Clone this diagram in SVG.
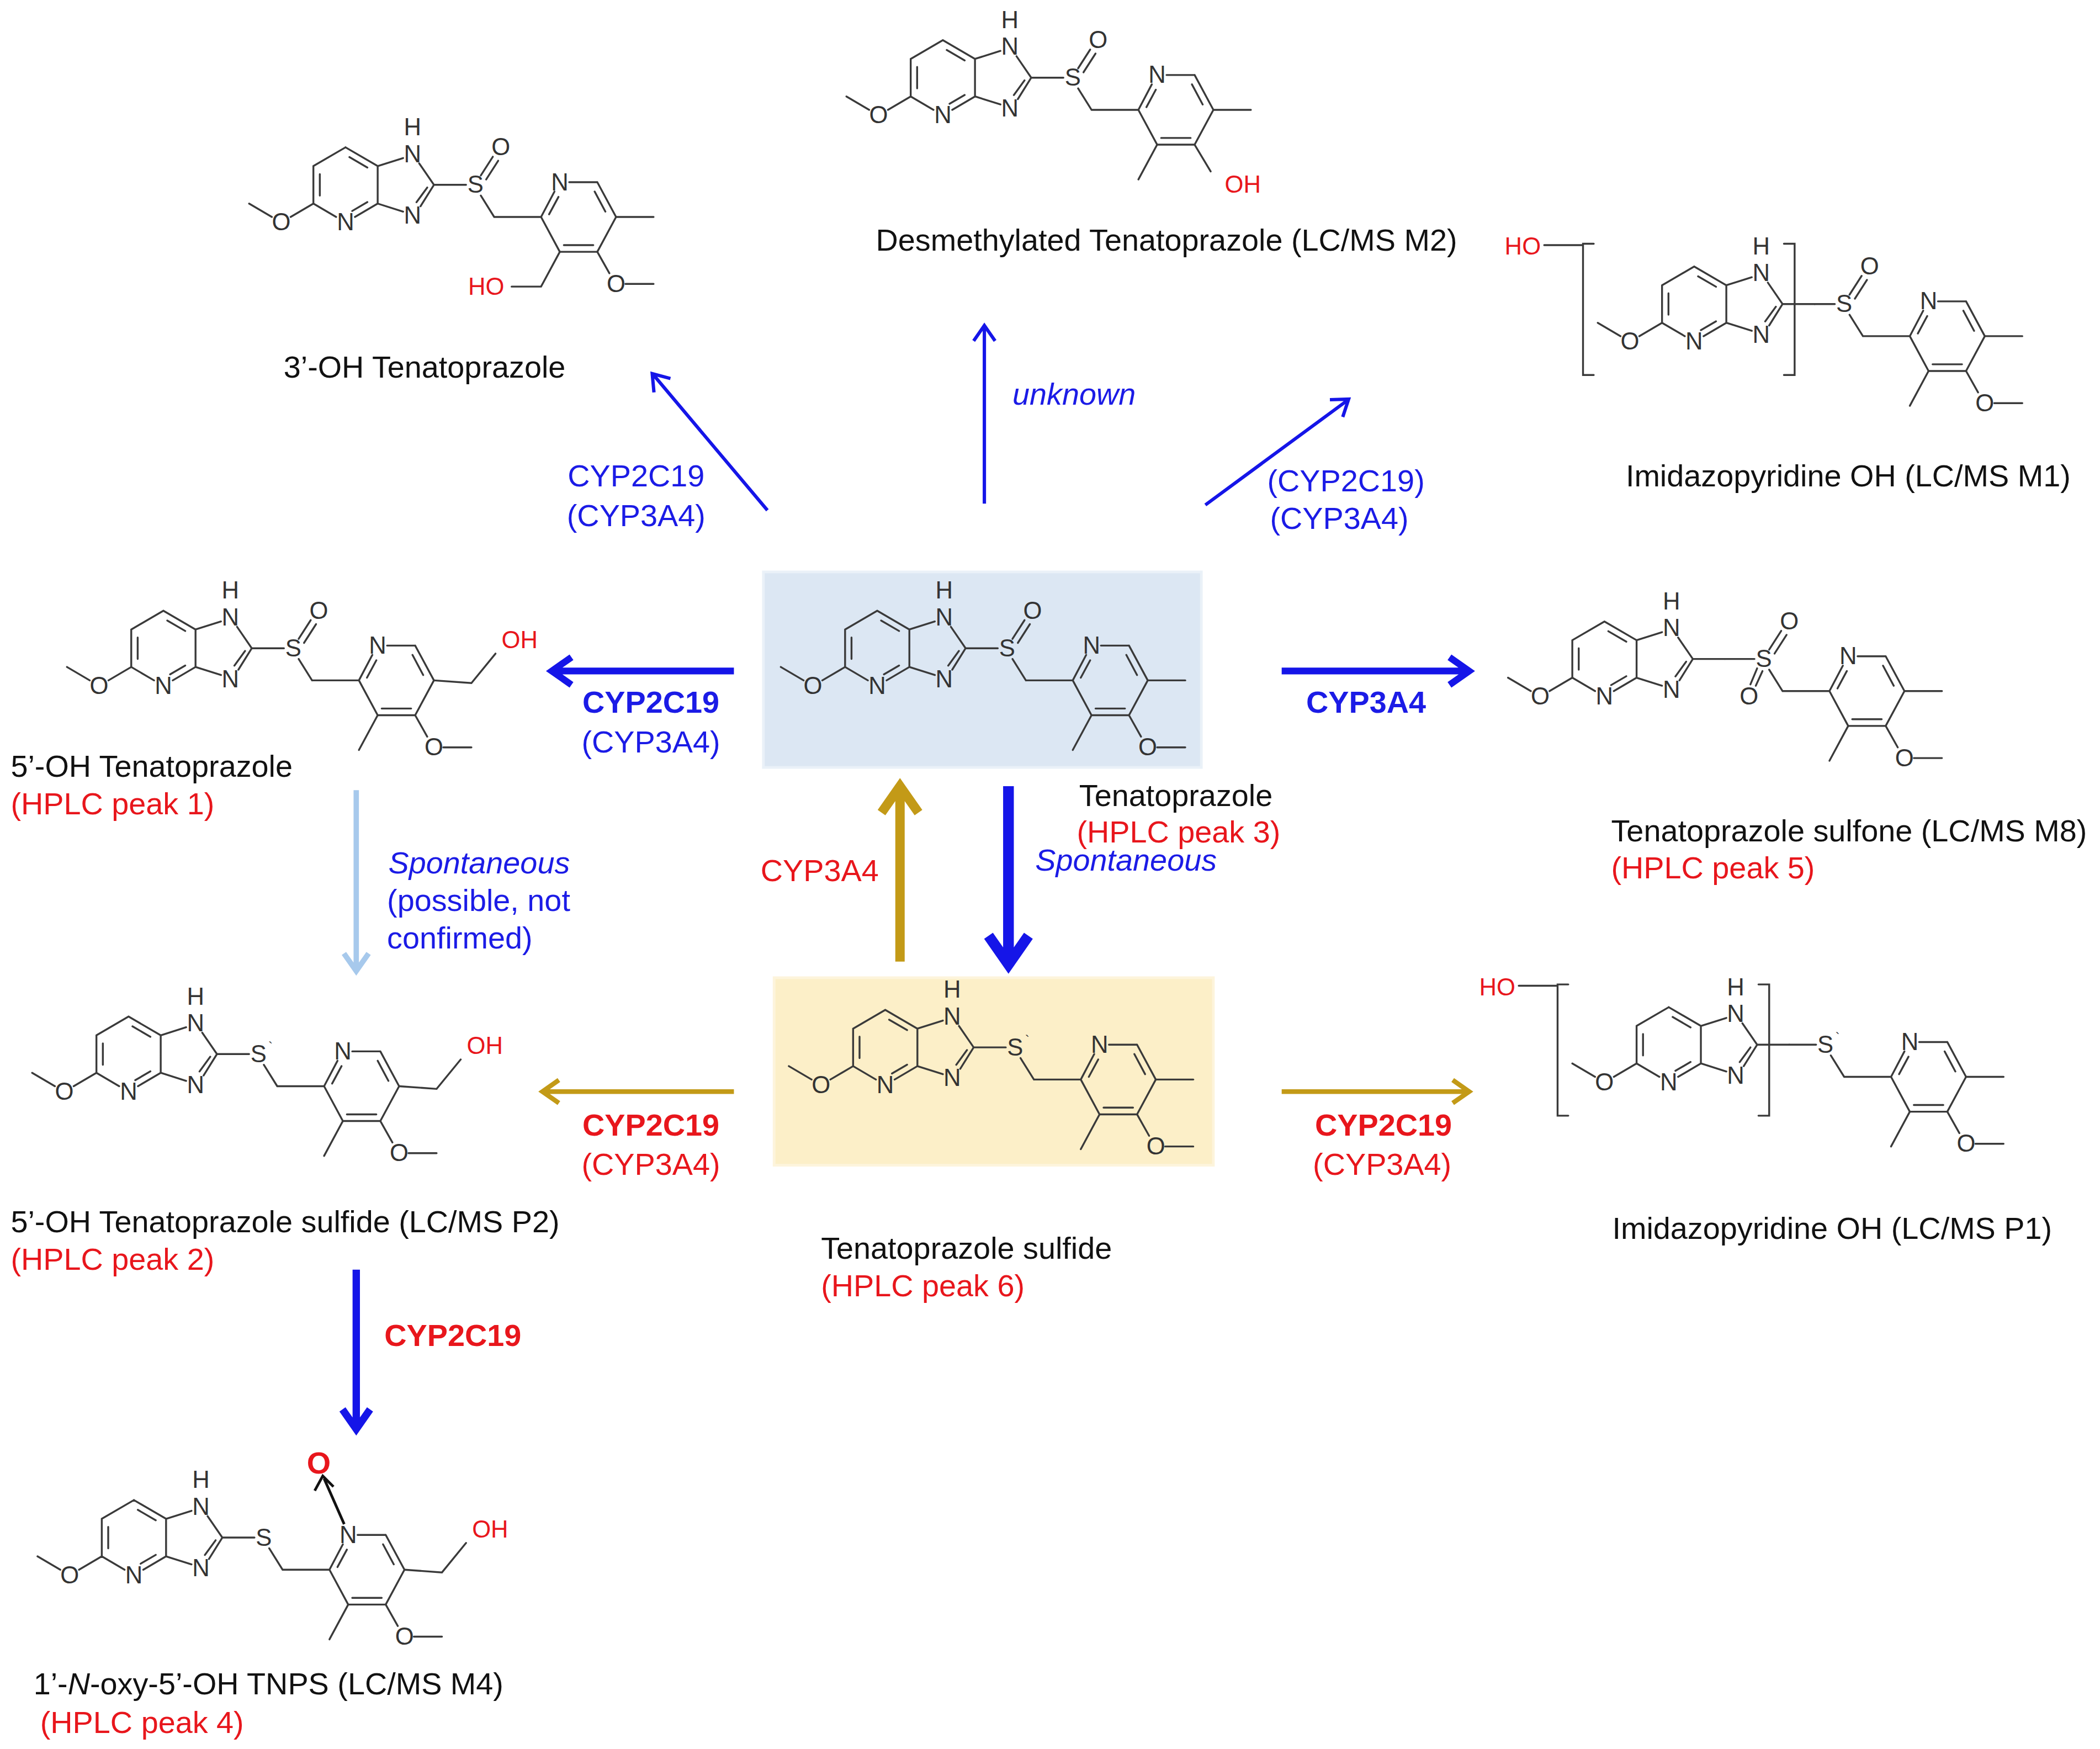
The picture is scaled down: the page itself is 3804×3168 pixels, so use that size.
<svg xmlns="http://www.w3.org/2000/svg" xmlns:xlink="http://www.w3.org/1999/xlink" width="3804" height="3168" viewBox="0 0 3804 3168">
<style>
.b{fill:none;stroke:#3a3a3a;stroke-width:1.4;stroke-linecap:round}
.at{font-family:"Liberation Sans",Arial,sans-serif;font-size:18px;fill:#333;text-anchor:middle}
.ar{font-family:"Liberation Sans",Arial,sans-serif;font-size:18px;fill:#e8161c;text-anchor:middle}
.t{font-family:"Liberation Sans",Arial,sans-serif;font-size:23px;fill:#111}
.r{fill:#e8161c}
.bl{fill:#1b1be6}
.it{font-style:italic}
.bd{font-weight:bold}
.m{text-anchor:middle}
.c{fill:none;stroke-linecap:butt;stroke-linejoin:miter}
</style>
<defs>
<g id="L">
<path class="b" d="M0,-28L24,-14 M2.9,-20.7L16.3,-12.9 M24,-14L24,14 M24,14L7,24 M16.3,12.9L5,19.5 M-7,24L-24,14 M-24,14L-24,-14 M-19.2,8L-19.2,-8 M-24,-14L0,-28 M-24,14L-41,24 M-55,24L-72,14 M24,-14L43,-20 M55,-16L66,0 M66,0L56,16 M61,2L53,13 M43,20L24,14 M66,0L90,0"/>
<text class="at" x="0" y="34">N</text><text class="at" x="-48" y="34">O</text><text class="at" x="50" y="-17">N</text><text class="at" x="50" y="-37">H</text><text class="at" x="50" y="29">N</text>
</g>
<g id="R">
<path class="b" d="M101,8L111,24 M111,24L146,24 M146,24L156,5 M152,22L159,9 M167,-2L188,-2 M188,-2L202,24 M186,5L194,20 M202,24L188,50 M188,50L160,50 M185,45L163,45 M160,50L146,24"/>
<text class="at" x="160" y="4">N</text>
</g>
<g id="S"><text class="at" x="97" y="6">S</text></g>
<g id="Sx"><text class="at" x="97" y="6">S</text><text class="at" x="106" y="-2" style="font-size:10px">`</text></g>
<g id="SO"><path class="b" d="M101,-7L110,-21 M105,-4L114,-18"/><text class="at" x="116" y="-22">O</text></g>
<g id="SO2"><path class="b" d="M92,7L87,19 M96,9L91,20"/><text class="at" x="86" y="34">O</text></g>
<path id="Me3" class="b" d="M160,50L146,76"/>
<g id="OMe4"><path class="b" d="M188,50L197,66 M209,74L230,74"/><text class="at" x="202" y="80">O</text></g>
<path id="Me5" class="b" d="M202,24L230,24"/>
<g id="CH2OH"><path class="b" d="M202,24L230,26L248,4"/><text class="ar" x="266" y="0">OH</text></g>
<g id="BR"><path class="b" d="M-75,-45L-83,-45L-83,53L-75,53 M67,-45L75,-45L75,53L67,53 M-112,-44L-83,-44"/><text class="ar" x="-128" y="-37">HO</text></g>
</defs>
<g transform="scale(2.426)">
<rect x="570" y="427" width="327" height="146" fill="#dce7f3" stroke="#eaf1f8" stroke-width="2"/>
<rect x="578" y="730" width="328" height="140" fill="#fcefc8" stroke="#fdf4dc" stroke-width="2"/>

<g id="m-3oh" transform="translate(258,138)">
<use href="#L"/><use href="#R"/><use href="#S"/><use href="#SO"/><use href="#OMe4"/><use href="#Me5"/>
<path class="b" d="M160,50L146,76L124,76"/><text class="ar" x="105" y="82">HO</text>
</g>
<g id="m-desmethyl" transform="translate(704,58)">
<use href="#L"/><use href="#R"/><use href="#S"/><use href="#SO"/><use href="#Me3"/><use href="#Me5"/>
<path class="b" d="M188,50L200,70"/><text class="ar" x="224" y="86">OH</text>
</g>
<g id="m-m1" transform="translate(1265,227)">
<use href="#L"/><use href="#BR"/><path class="b" d="M90,0L105,0"/>
<g transform="translate(15,0)"><use href="#R"/><use href="#S"/><use href="#SO"/><use href="#Me3"/><use href="#OMe4"/><use href="#Me5"/></g>
</g>
<g id="m-5oh" transform="translate(122,484)">
<use href="#L"/><use href="#R"/><use href="#S"/><use href="#SO"/><use href="#Me3"/><use href="#OMe4"/><use href="#CH2OH"/>
</g>
<g id="m-tenatoprazole" transform="translate(655,484)">
<use href="#L"/><use href="#R"/><use href="#S"/><use href="#SO"/><use href="#Me3"/><use href="#OMe4"/><use href="#Me5"/>
</g>
<g id="m-sulfone" transform="translate(1198,492)">
<use href="#L"/><path class="b" d="M90,0L112,0"/>
<g transform="translate(22,0)"><use href="#R"/><use href="#S"/><use href="#SO"/><use href="#SO2"/><use href="#Me3"/><use href="#OMe4"/><use href="#Me5"/></g>
</g>
<g id="m-5oh-sulfide" transform="translate(96,787)">
<use href="#L"/><use href="#R"/><use href="#Sx"/><use href="#Me3"/><use href="#OMe4"/><use href="#CH2OH"/>
</g>
<g id="m-sulfide" transform="translate(661,782)">
<use href="#L"/><use href="#R"/><use href="#Sx"/><use href="#Me3"/><use href="#OMe4"/><use href="#Me5"/>
</g>
<g id="m-p1" transform="translate(1246,780)">
<use href="#L"/><use href="#BR"/><path class="b" d="M90,0L110,0"/>
<g transform="translate(20,0)"><use href="#R"/><use href="#Sx"/><use href="#Me3"/><use href="#OMe4"/><use href="#Me5"/></g>
</g>
<g id="m-m4" transform="translate(100,1148)">
<use href="#L"/><use href="#R"/><use href="#S"/><use href="#Me3"/><use href="#OMe4"/><use href="#CH2OH"/>
<path class="c" stroke="#111" stroke-width="2" d="M157,-10L142,-44 M135,-35L141,-46L149,-38"/>
<text x="138" y="-48" class="ar" style="font-size:23px;font-weight:bold">O</text>
</g>

<g id="connectors">
<g stroke="#1515e8">
<path class="c" stroke-width="2.5" d="M573,381L488,280 M488.3,293L487,279L500.6,282.6"/>
<path class="c" stroke-width="2.5" d="M735,376L735,245 M727,254.5L735,243L743,254.5"/>
<path class="c" stroke-width="2.5" d="M900,377L1006,299 M993,298.4L1007,298L1002.6,311.3"/>
<path class="c" stroke-width="5" d="M548,501L416,501 M426.7,490.7L412,501L426.7,511.3"/>
<path class="c" stroke-width="5" d="M957,501L1093,501 M1082.3,490.7L1097,501L1082.3,511.3"/>
<path class="c" stroke-width="8" d="M753,587L753,714 M738.1,698.7L753,720L767.9,698.7"/>
<path class="c" stroke-width="5.5" d="M266,948L266,1063 M255.7,1052.3L266,1067L276.3,1052.3"/>
</g>
<path class="c" stroke="#a7c9ec" stroke-width="4" d="M266,590L266,722 M256.8,711.9L266,725L275.2,711.9"/>
<g stroke="#c39a17">
<path class="c" stroke-width="7" d="M672,718L672,593 M658.2,606.7L672,587L685.8,606.7"/>
<path class="c" stroke-width="3.5" d="M548,815L408,815 M417.3,806.4L405,815L417.3,823.6"/>
<path class="c" stroke-width="3.5" d="M957,815L1094,815 M1084.7,806.4L1097,815L1084.7,823.6"/>
</g>
</g>

<g id="labels" class="t">
<text class="t m" x="317" y="282">3’-OH Tenatoprazole</text>
<text class="t m" x="871" y="187">Desmethylated Tenatoprazole (LC/MS M2)</text>
<text class="t m" x="1380" y="363">Imidazopyridine OH (LC/MS M1)</text>
<text class="t m bl it" x="802" y="302">unknown</text>
<text class="t m bl" x="475" y="363">CYP2C19</text>
<text class="t m bl" x="475" y="393">(CYP3A4)</text>
<text class="t m bl" x="1005" y="367">(CYP2C19)</text>
<text class="t m bl" x="1000" y="395">(CYP3A4)</text>
<text class="t" x="8" y="580">5’-OH Tenatoprazole</text>
<text class="t r" x="8" y="608">(HPLC peak 1)</text>
<text class="t m bl bd" x="486" y="532">CYP2C19</text>
<text class="t m bl" x="486" y="562">(CYP3A4)</text>
<text class="t m bl bd" x="1020" y="532">CYP3A4</text>
<text class="t m" x="878" y="602">Tenatoprazole</text>
<text class="t m r" x="880" y="629">(HPLC peak 3)</text>
<text class="t" x="1203" y="628">Tenatoprazole sulfone (LC/MS M8)</text>
<text class="t r" x="1203" y="656">(HPLC peak 5)</text>
<text class="t bl it" x="290" y="652">Spontaneous</text>
<text class="t bl" x="289" y="680">(possible, not</text>
<text class="t bl" x="289" y="708">confirmed)</text>
<text class="t m r" x="612" y="658">CYP3A4</text>
<text class="t bl it" x="773" y="650">Spontaneous</text>
<text class="t m r bd" x="486" y="848">CYP2C19</text>
<text class="t m r" x="486" y="877">(CYP3A4)</text>
<text class="t m r bd" x="1033" y="848">CYP2C19</text>
<text class="t m r" x="1032" y="877">(CYP3A4)</text>
<text class="t" x="8" y="920">5’-OH Tenatoprazole sulfide (LC/MS P2)</text>
<text class="t r" x="8" y="948">(HPLC peak 2)</text>
<text class="t" x="613" y="940">Tenatoprazole sulfide</text>
<text class="t r" x="613" y="968">(HPLC peak 6)</text>
<text class="t m" x="1368" y="925">Imidazopyridine OH (LC/MS P1)</text>
<text class="t r bd" x="287" y="1005">CYP2C19</text>
<text class="t" x="25" y="1265">1’-<tspan class="it">N</tspan>-oxy-5’-OH TNPS (LC/MS M4)</text>
<text class="t r" x="30" y="1294">(HPLC peak 4)</text>
</g>
</g>
</svg>
